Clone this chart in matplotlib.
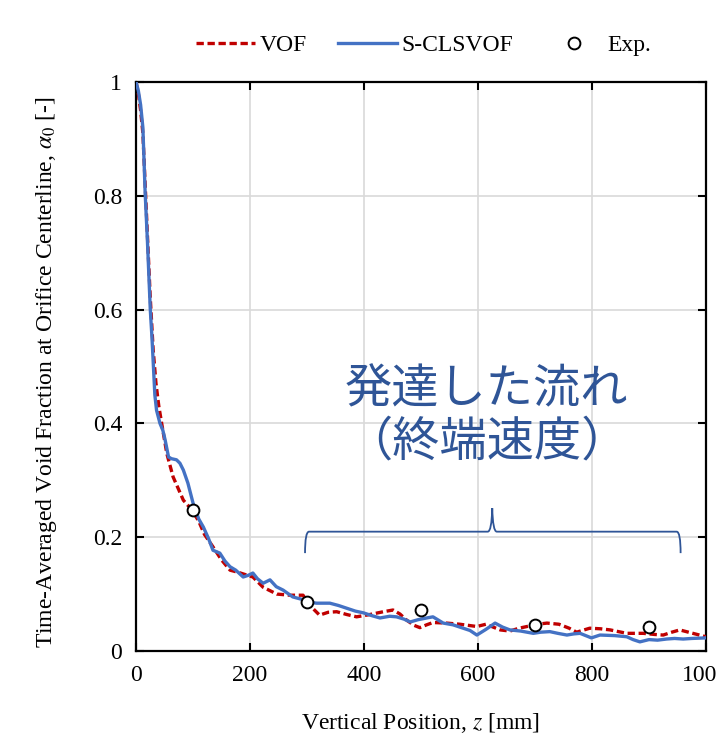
import matplotlib.pyplot as plt
from matplotlib.path import Path
from matplotlib.patches import PathPatch

# =========================
# Data
# =========================
z_scl = [0, 4, 8, 12, 16, 20, 25, 28, 30, 33, 36, 42, 47, 51, 57, 62, 71, 77, 83,
         91, 100, 110, 118, 127, 135, 147, 156, 165, 175, 188, 197, 205, 213, 223,
         235, 246, 258, 275, 290, 300, 317, 340, 355, 370, 385, 399, 414, 428,
         445, 457, 470, 481, 495, 510, 521, 539, 556, 574, 586, 598, 614, 630,
         643, 656, 675, 697, 710, 726, 740, 756, 768, 779, 799, 814, 840, 861,
         872, 884, 900, 915, 931, 945, 960, 975, 1000]
a_scl = [1.0, 0.985, 0.96, 0.92, 0.805, 0.72, 0.6, 0.55, 0.51, 0.45, 0.423, 0.40,
         0.388, 0.371, 0.341, 0.338, 0.336, 0.33, 0.318, 0.295, 0.26, 0.232,
         0.218, 0.198, 0.177, 0.172, 0.158, 0.148, 0.142, 0.13, 0.133, 0.137,
         0.127, 0.119, 0.125, 0.113, 0.107, 0.095, 0.091, 0.086, 0.084, 0.084,
         0.08, 0.075, 0.07, 0.067, 0.062, 0.058, 0.061, 0.06, 0.056, 0.051,
         0.055, 0.058, 0.06, 0.049, 0.046, 0.04, 0.036, 0.028, 0.038, 0.049,
         0.042, 0.037, 0.035, 0.031, 0.033, 0.034, 0.031, 0.028, 0.03, 0.031,
         0.023, 0.028, 0.027, 0.025, 0.02, 0.016, 0.02, 0.019, 0.021, 0.022,
         0.021, 0.022, 0.023]

z_vof = [0, 4, 8, 12, 16, 20, 25, 30, 35, 40, 45, 54, 65, 83, 98, 110,
         120, 135, 150, 165, 180, 205, 223, 235, 247, 270, 293, 305, 322, 337,
         352, 370, 387, 410, 434, 451, 463, 475, 488, 498, 510, 521, 545, 568,
         598, 614, 639, 656, 672, 686, 705, 721, 742, 760, 773, 796, 815, 832,
         861, 890, 910, 925, 940, 954, 977, 1000]
a_vof = [1.0, 0.98, 0.95, 0.91, 0.82, 0.73, 0.62, 0.53, 0.47, 0.43, 0.40, 0.347,
         0.306, 0.265, 0.248, 0.228, 0.205, 0.183, 0.16, 0.142,
         0.138, 0.13, 0.112, 0.106, 0.1, 0.098, 0.098, 0.08, 0.063, 0.068,
         0.069, 0.064, 0.06, 0.064, 0.069, 0.072, 0.065, 0.054, 0.045, 0.041,
         0.046, 0.05, 0.049, 0.047, 0.043, 0.047, 0.037, 0.035, 0.04, 0.043,
         0.047, 0.049, 0.047, 0.04, 0.033, 0.04, 0.039, 0.037, 0.031, 0.031,
         0.029, 0.028, 0.033, 0.037, 0.031, 0.025]

z_exp = [100, 300, 500, 700, 900]
a_exp = [0.248, 0.086, 0.072, 0.046, 0.042]

xticks = [0, 200, 400, 600, 800, 1000]
yticks = [0, 0.2, 0.4, 0.6, 0.8, 1.0]
yticklabels = ["0", "0.2", "0.4", "0.6", "0.8", "1"]

RED = "#C00000"
BLUE = "#4472C4"
NAVY = "#2F5597"

plt.rcParams.update({
    "font.family": ["Liberation Serif", "DejaVu Serif"],
    "font.size": 17,
    "mathtext.fontset": "stix",
})

fig = plt.figure(figsize=(7.16, 7.41), dpi=100)
ax = fig.add_axes([0.190, 0.1215, 0.796, 0.7678])

ax.plot(z_vof, a_vof, color=RED, lw=2.4, dashes=(2.2, 1.1), label="VOF", zorder=3)
ax.plot(z_scl, a_scl, color=BLUE, lw=2.4, label="S-CLSVOF", zorder=4)
ax.plot(z_exp, a_exp, ls="none", marker="o", ms=8.5, mfc="white", mec="black",
        mew=1.4, label="Exp.", zorder=5)

ax.set_xlim(0, 1000)
ax.set_ylim(0, 1)
ax.set_xticks(xticks)
ax.set_xticklabels([str(v) for v in xticks])
ax.set_yticks(yticks)
ax.set_yticklabels(yticklabels)
ax.grid(True, color="#D9D9D9", lw=1.2)
ax.set_axisbelow(True)
ax.tick_params(direction="in", length=6, width=1.5, top=True, right=True,
               labelsize=17, pad=10)
for s in ax.spines.values():
    s.set_linewidth(1.6)

ax.set_xlabel("Vertical Position, $\\it{z}$ [mm]", fontsize=17, labelpad=18)
ax.set_ylabel("Time-Averaged Void Fraction at Orifice Centerline, $\\alpha_0$ [-]",
              fontsize=17)
ax.yaxis.set_label_coords(-0.135, 0.49)

# brace over the developed-flow region
yb, yt, ypk = 0.172, 0.2097, 0.251
verts = [(296.5, yb), (296.5, yt), (303.5, yt), (617, yt), (624, yt), (625, ypk),
         (626, yt), (633, yt), (948.5, yt), (955.5, yt), (955.5, yb)]
codes = [Path.MOVETO, Path.CURVE3, Path.CURVE3, Path.LINETO, Path.CURVE3, Path.CURVE3,
         Path.CURVE3, Path.CURVE3, Path.LINETO, Path.CURVE3, Path.CURVE3]
ax.add_patch(PathPatch(Path(verts, codes), fill=False, ec=NAVY, lw=1.3, zorder=2))

ax.text(615, 0.412, "発達した流れ\n（終端速度）", ha="center", va="center",
        fontsize=34, color=NAVY, linespacing=1.1,
        family=["Noto Sans CJK JP", "DejaVu Sans"])

fig.legend(loc="center", bbox_to_anchor=(0.592, 0.939), ncol=3, frameon=False,
           fontsize=17, handlelength=2.5, handletextpad=0.2, columnspacing=1.3)

fig.savefig("out.png", dpi=100)
